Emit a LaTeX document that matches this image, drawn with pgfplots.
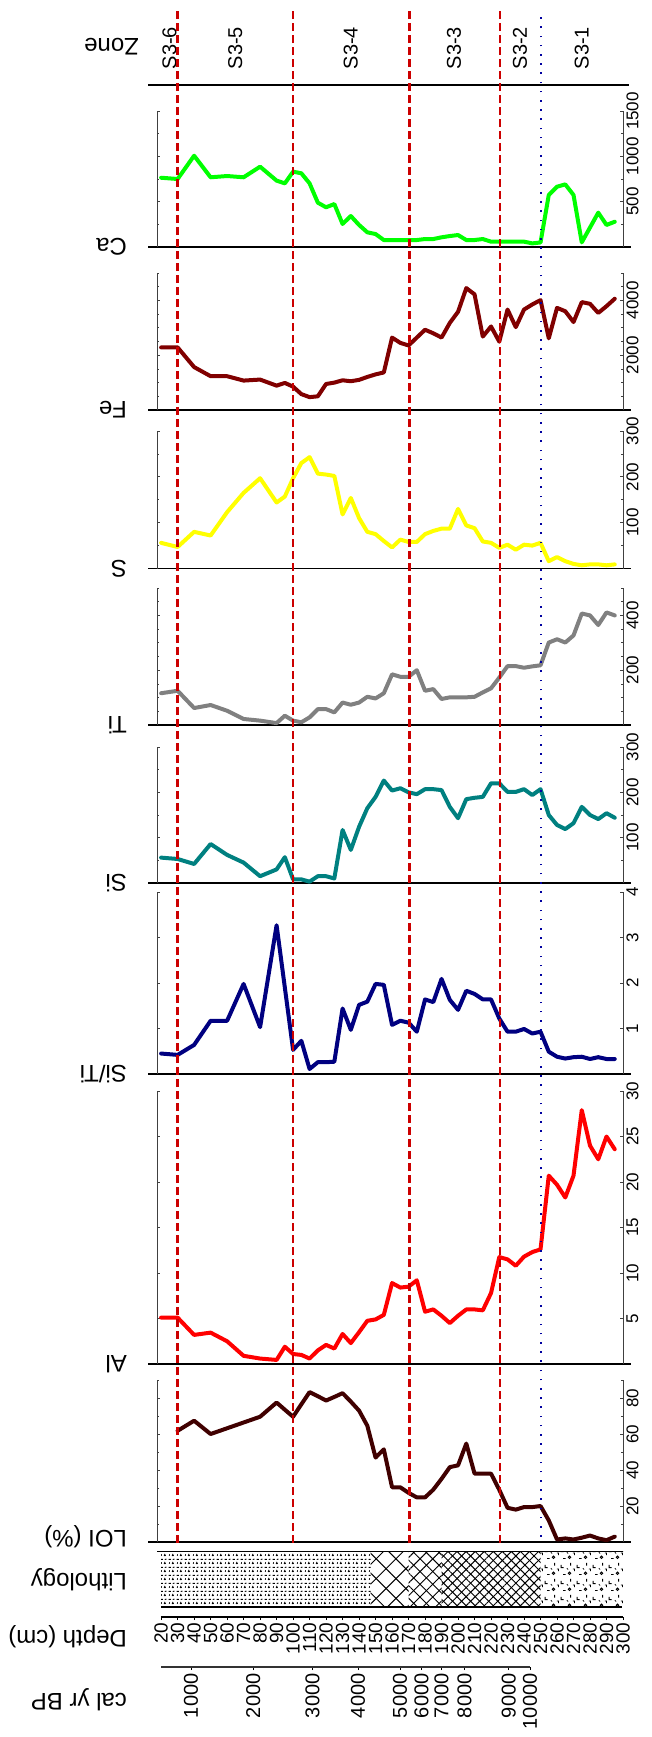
\documentclass[border=0pt]{standalone}
\usepackage{fontspec}
\setmainfont{Liberation Sans}
\usepackage{pgfplots}
\usepackage{pgfplotstable}
\pgfplotsset{compat=1.18}
\usetikzlibrary{patterns,patterns.meta}

\definecolor{loicol}{RGB}{64,0,0}
\definecolor{alcol}{RGB}{255,0,0}
\definecolor{siticol}{RGB}{0,0,128}
\definecolor{sicol}{RGB}{0,128,128}
\definecolor{ticol}{RGB}{128,128,128}
\definecolor{scol}{RGB}{255,255,0}
\definecolor{fecol}{RGB}{128,0,0}
\definecolor{cacol}{RGB}{0,255,0}
\definecolor{zonered}{RGB}{204,0,0}
\definecolor{zoneblue}{RGB}{0,0,160}

\newcommand{\lblfont}{\fontsize{12}{14}\selectfont}
\newcommand{\tickfont}{\fontsize{8.5}{10}\selectfont}
\newcommand{\depthfont}{\fontsize{9.5}{10}\selectfont}
\newcommand{\calfont}{\fontsize{10}{12}\selectfont}
\newcommand{\zonefont}{\fontsize{10}{12}\selectfont}

% depth (cm) and geochemistry of core S3
\pgfplotstableread{
d    loi   al     siti  si   ti   s    fe    ca
20   nan   5.1    0.45  56   116  56   2285  764
30   61.8  5.1    0.42  53   125  47   2285  750
40   67.4  3.2    0.64  42   62   80   1567  1007
50   60.0  3.45   1.17  86   73   72   1234  769
60   63.2  2.5    1.17  62   52   123  1234  783
70   66.4  0.9    1.98  45   22   165  1074  769
80   69.6  0.6    1.03  15   16   197  1111  886
90   77.5  0.45   3.27  30   7    144  889   732
95   73.5  1.9    1.9   57   34   157  989   702
100  69.6  1.1    0.53  8    16   197  852   831
105  76.5  1.0    0.73  8    10   230  580   813
110  83.3  0.6    0.11  3    28   243  470   702
115  81.0  1.5    0.26  15   58   207  500   489
120  78.6  2.1    0.26  15   58   205  950   438
125  80.6  1.7    0.27  10   46   202  1000  474
130  82.7  3.3    1.44  117  82   118  1085  254
135  78.0  2.3    0.97  73   74   154  1050  342
140  73.0  3.5    1.52  124  82   110  1100  243
145  64.6  4.75   1.59  165  103  80   1207  162
150  46.9  4.9    1.98  190  97   75   1300  143
155  51.5  5.4    1.96  226  116  60   1371  77
160  30.4  8.9    1.08  204  185  46   2644  77
165  30.4  8.4    1.17  209  176  63   2450  77
170  27.3  8.5    1.13  200  176  58   2356  77
175  24.8  9.2    0.93  196  200  58   2644  77
180  24.8  5.75   1.64  207  125  75   2930  88
185  29.1  6.0    1.58  207  131  82   2800  88
190  35.1  5.3    2.09  205  95   87   2644  107
195  41.6  4.5    1.63  168  101  87   3178  121
200  42.6  5.3    1.41  143  101  130  3586  132
205  54.7  6.0    1.83  185  101  94   4450  77
210  38.0  6.0    1.76  188  103  88   4222  77
215  38.0  5.9    1.64  190  119  59   2679  88
220  38.0  7.8    1.64  220  134  56   3049  59
225  29.0  11.75  1.22  220  173  45   2494  59
230  19.0  11.5   0.93  201  215  52   3667  59
235  18.0  10.8   0.93  201  215  41   3025  59
240  19.4  11.8   0.99  207  209  52   3667  59
245  19.4  12.3   0.89  194  214  50   3852  40
250  20.0  12.6   0.93  207  218  56   4012  50
255  12.0  20.7   0.49  150  301  16   2617  574
260  1.4   19.7   0.38  128  313  25   3728  665
265  2.0   18.3   0.34  119  301  16   3605  691
270  1.4   20.7   0.37  132  327  10   3210  574
275  2.4   27.9   0.38  168  407  7    3938  51
280  3.6   24.0   0.33  150  400  9    3876  215
285  2.0   22.5   0.37  141  365  9    3543  379
290  1.0   25.0   0.33  154  411  7    3790  243
295  3.0   23.6   0.33  144  400  9    4062  279
}\geochem

% lithology symbols
\tikzdeclarepattern{
  name=siltmarks, type=uncolored,
  bounding box={(0pt,0pt) and (4pt,4pt)},
  tile size={(4pt,4pt)},
  code={
    \draw[line width=0.45pt] (0.3pt,0.9pt) -- (1.6pt,0.9pt);
    \draw[line width=0.45pt] (2.3pt,2.8pt) -- (2.7pt,3.6pt) -- (3.1pt,2.8pt);
    \draw[line width=0.45pt] (0.7pt,2.9pt) -- (0.9pt,3.7pt);
    \draw[line width=0.45pt] (2.7pt,0.8pt) -- (3.6pt,1.1pt);
  }
}
\tikzdeclarepattern{
  name=gravel, type=uncolored,
  bounding box={(0pt,0pt) and (8pt,8pt)},
  tile size={(8pt,8pt)},
  code={
    \draw[line width=0.45pt] (0.6pt,6.4pt) -- (0.6pt,4.9pt) -- (1.9pt,4.9pt);
    \draw[line width=0.45pt] (5.0pt,2.0pt) circle (0.65pt);
    \draw[line width=0.45pt] (5.6pt,7.4pt) -- (5.6pt,6.0pt);
    \draw[line width=0.45pt] (1.6pt,1.3pt) -- (2.9pt,1.3pt);
    \draw[line width=0.45pt] (3.6pt,4.6pt) -- (4.3pt,3.9pt);
    \draw[line width=0.45pt] (6.8pt,4.2pt) -- (7.6pt,4.2pt) -- (7.6pt,3.1pt);
  }
}

\pgfplotsset{
  /pgf/number format/assume math mode=true,
  /pgf/number format/1000 sep={},
  base/.style={
    scale only axis, width=233pt, xmin=17.5, xmax=300,
    anchor=south west,
  },
  panel/.style={
    base, ymin=0,
    axis x line*=bottom, axis y line*=box,
    xtick=\empty,
    yticklabel pos=right,
    tick align=inside,
    major tick length=1.6pt, minor tick length=1.2pt,
    tick style={black!75, line width=0.4pt},
    y axis line style={black!75, line width=0.5pt},
    x axis line style={black, line width=0.75pt, shorten <=-4.5pt, shorten >=-4pt},
    yticklabel style={rotate=90, anchor=north, font=\tickfont, inner sep=1.5pt},
    scaled y ticks=false,
  },
  curve/.style={line width=2pt, line join=round, line cap=round, mark=none},
}

\begin{document}
\begin{tikzpicture}
\useasboundingbox (0,0) rectangle (326pt,-868.5pt);

% zone header
\begin{axis}[base, at={(78.5pt,-42.5pt)}, height=38.5pt, ymin=0, ymax=1,
  hide y axis, axis x line*=bottom, xtick=\empty,
  x axis line style={black, line width=0.75pt, shorten <=-4.5pt, shorten >=-3pt}]
  \node[rotate=90, font=\zonefont] at (axis cs:25,0.48) {S3-6};
  \node[rotate=90, font=\zonefont] at (axis cs:65,0.48) {S3-5};
  \node[rotate=90, font=\zonefont] at (axis cs:135,0.48) {S3-4};
  \node[rotate=90, font=\zonefont] at (axis cs:197.5,0.48) {S3-3};
  \node[rotate=90, font=\zonefont] at (axis cs:237.5,0.48) {S3-2};
  \node[rotate=90, font=\zonefont] at (axis cs:275,0.48) {S3-1};
\end{axis}

% Ca
\begin{axis}[panel, at={(78.5pt,-123.5pt)}, height=68pt, ymax=1500,
  ytick={500,1000,1500}, minor ytick={250,750,1250}]
  \addplot[curve, cacol] table[x=d, y=ca] {\geochem};
\end{axis}
% Fe
\begin{axis}[panel, at={(78.5pt,-205pt)}, height=68.5pt, ymax=5000,
  ytick={2000,4000}, minor ytick={500,1000,...,5000}]
  \addplot[curve, fecol] table[x=d, y=fe] {\geochem};
\end{axis}
% S
\begin{axis}[panel, at={(78.5pt,-284.25pt)}, height=68.75pt, ymax=300,
  ytick={100,200,300}, minor ytick={50,150,250}]
  \addplot[curve, scol] table[x=d, y=s] {\geochem};
\end{axis}
% Ti
\begin{axis}[panel, at={(78.5pt,-362.5pt)}, height=68.5pt, ymax=500,
  ytick={200,400}, minor ytick={50,100,...,500}]
  \addplot[curve, ticol] table[x=d, y=ti] {\geochem};
\end{axis}
% Si
\begin{axis}[panel, at={(78.5pt,-441.5pt)}, height=68pt, ymax=300,
  ytick={100,200,300}, minor ytick={50,150,250}]
  \addplot[curve, sicol] table[x=d, y=si] {\geochem};
\end{axis}
% Si/Ti
\begin{axis}[panel, at={(78.5pt,-537pt)}, height=91pt, ymax=4,
  ytick={1,2,3,4}]
  \addplot[curve, siticol] table[x=d, y=siti] {\geochem};
\end{axis}
% Al
\begin{axis}[panel, at={(78.5pt,-682pt)}, height=136.5pt, ymax=30,
  ytick={5,10,...,30}]
  \addplot[curve, alcol] table[x=d, y=al] {\geochem};
\end{axis}
% LOI
\begin{axis}[panel, at={(78.5pt,-771pt)}, height=81pt, ymax=90,
  ytick={20,40,60,80}, minor ytick={10,30,...,90}]
  \addplot[curve, loicol] table[x=d, y=loi] {\geochem};
\end{axis}

% lithology column
\begin{axis}[base, at={(78.5pt,-803.5pt)}, height=28pt, ymin=0, ymax=1, hide axis]
  \addplot[draw=none, pattern=siltmarks, pattern color=black] coordinates {(20,1) (147,1)} \closedcycle;
  \addplot[draw=none, pattern={Lines[angle=45,distance=7pt,line width=0.5pt]}, pattern color=black] coordinates {(147,1) (170,1)} \closedcycle;
  \addplot[draw=none, pattern={Lines[angle=-45,distance=7pt,line width=0.5pt]}, pattern color=black] coordinates {(147,1) (170,1)} \closedcycle;
  \addplot[draw=none, pattern={Lines[angle=45,distance=4.5pt,line width=0.5pt]}, pattern color=black] coordinates {(170,1) (190,1)} \closedcycle;
  \addplot[draw=none, pattern={Lines[angle=-45,distance=4.5pt,line width=0.5pt]}, pattern color=black] coordinates {(170,1) (190,1)} \closedcycle;
  \addplot[draw=none, pattern={Lines[angle=45,distance=3.2pt,line width=0.5pt]}, pattern color=black] coordinates {(190,1) (250,1)} \closedcycle;
  \addplot[draw=none, pattern={Lines[angle=-45,distance=3.2pt,line width=0.5pt]}, pattern color=black] coordinates {(190,1) (250,1)} \closedcycle;
  \addplot[draw=none, pattern=gravel, pattern color=black] coordinates {(250,1) (300,1)} \closedcycle;
  \draw[black, line width=0.75pt] ([xshift=-7.5pt]rel axis cs:0,1) -- ([xshift=3pt]rel axis cs:1,1);
  \draw[black, line width=0.75pt] ([xshift=2pt]rel axis cs:0,0) -- ([xshift=-0.5pt]rel axis cs:1,0);
\end{axis}

% depth scale
\begin{axis}[base, at={(78.5pt,-808.5pt)}, height=5pt, ymin=0, ymax=1,
  hide y axis, axis x line*=bottom,
  xtick={20,30,...,300}, tick align=outside, major tick length=1.6pt,
  tick style={black, line width=0.4pt},
  x axis line style={black, line width=0.6pt, shorten <=2pt},
  xticklabel style={rotate=90, anchor=east, font=\depthfont, inner sep=1pt}]
\end{axis}

% calibrated age scale
\begin{axis}[base, at={(78.5pt,-833.5pt)}, height=5pt, ymin=0, ymax=1,
  hide y axis, axis x line*=bottom,
  xtick={38.1,75.9,111.7,139.4,164.8,177.9,190,203.9,230.8,243.6},
  xticklabels={1000,2000,3000,4000,5000,6000,7000,8000,9000,10000},
  tick align=outside, major tick length=1.6pt,
  tick style={black, line width=0.4pt},
  x axis line style={black!80, line width=0.6pt, shorten <=2pt, shorten >=46.6pt},
  xticklabel style={rotate=90, anchor=east, font=\calfont, inner sep=1.5pt}]
\end{axis}

% zone boundaries across all panels
\begin{axis}[base, at={(78.5pt,-771.5pt)}, height=767.5pt, ymin=0, ymax=1, hide axis]
  \addplot[zonered, line width=1.2pt, dash pattern=on 4pt off 2pt] coordinates {(30,0) (30,1)};
  \addplot[zonered, line width=1.2pt, dash pattern=on 4pt off 2pt] coordinates {(100,0) (100,1)};
  \addplot[zonered, line width=1.2pt, dash pattern=on 4pt off 2pt] coordinates {(170.5,0) (170.5,1)};
  \addplot[zonered, line width=1.2pt, dash pattern=on 4pt off 2pt] coordinates {(225.5,0) (225.5,1)};
  \addplot[zoneblue, line width=0.9pt, dash pattern=on 0.8pt off 3.8pt] coordinates {(250.5,0.004) (250.5,0.997)};
\end{axis}

% panel titles
\node[rotate=180, anchor=west, font=\lblfont] at (73pt,-23.5pt) {Zone};
\node[rotate=180, anchor=west, font=\lblfont] at (67pt,-123.5pt) {Ca};
\node[rotate=180, anchor=west, font=\lblfont] at (67pt,-205pt) {Fe};
\node[rotate=180, anchor=west, font=\lblfont] at (67pt,-284.25pt) {S};
\node[rotate=180, anchor=west, font=\lblfont] at (67pt,-362.5pt) {Ti};
\node[rotate=180, anchor=west, font=\lblfont] at (67pt,-441.5pt) {Si};
\node[rotate=180, anchor=west, font=\lblfont] at (67pt,-537pt) {Si/Ti};
\node[rotate=180, anchor=west, font=\lblfont] at (67pt,-682pt) {Al};
\node[rotate=180, anchor=west, font=\lblfont] at (67pt,-768.5pt) {LOI (\%)};
\node[rotate=180, anchor=west, font=\lblfont] at (67pt,-790pt) {Lithology};
\node[rotate=180, anchor=west, font=\lblfont] at (67pt,-818.5pt) {Depth (cm)};
\node[rotate=180, anchor=west, font=\lblfont] at (67pt,-850pt) {cal yr BP};
\end{tikzpicture}
\end{document}
